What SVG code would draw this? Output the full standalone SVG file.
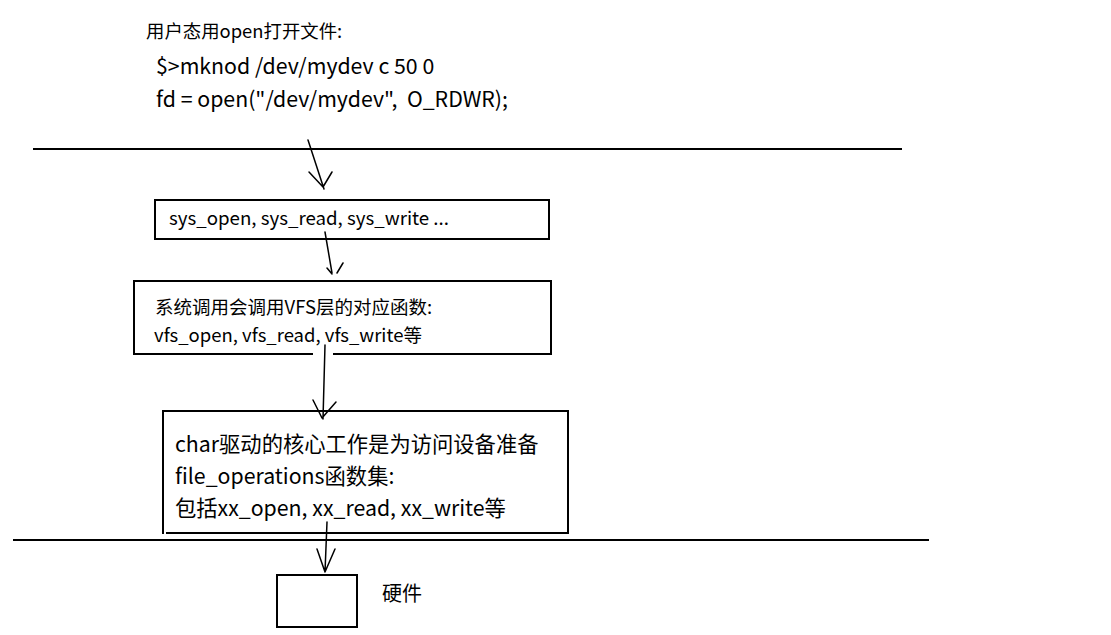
<svg xmlns="http://www.w3.org/2000/svg" width="1111" height="635" viewBox="0 0 1111 635">
<style>
text{font-family:"Noto Sans CJK SC","Noto Sans",sans-serif;fill:#000}
.b{fill:none;stroke:#000;stroke-width:2}
.c{fill:none;stroke:#000;stroke-width:1.5;stroke-linecap:round;stroke-linejoin:round}
</style>
<rect width="1111" height="635" fill="#fff"/>
<g id="header">
<text x="146" y="38" font-size="18.4">用户态用open打开文件:</text>
<text x="156" y="74" font-size="21.3">$&gt;mknod /dev/mydev c 50 0</text>
<text x="156" y="107" font-size="21.3" xml:space="preserve">fd = open("/dev/mydev",  O_RDWR);</text>
</g>
<g id="dividers">
<line class="b" x1="33" y1="149" x2="902" y2="149"/>
<line class="b" x1="13" y1="540" x2="929" y2="540"/>
</g>
<g id="syscall">
<rect class="b" x="155" y="200" width="394" height="39"/>
<text x="169" y="225" font-size="18.7">sys_open, sys_read, sys_write ...</text>
</g>
<g id="vfs">
<path class="b" d="M313 354 H134 V281 H551 V354 H333"/>
<text x="155" y="314" font-size="18.5">系统调用会调用VFS层的对应函数:</text>
<text x="154" y="342" font-size="18.5">vfs_open, vfs_read, vfs_write等</text>
</g>
<g id="driver">
<path class="b" d="M163 534 V411 H568 V533 H166"/>
<text x="175" y="452" font-size="21.3">char驱动的核心工作是为访问设备准备</text>
<text x="175" y="484" font-size="21.3">file_operations函数集:</text>
<text x="175" y="516" font-size="21.3">包括xx_open, xx_read, xx_write等</text>
</g>
<g id="hardware">
<rect class="b" x="277" y="575" width="80" height="52"/>
<text x="382" y="601" font-size="20">硬件</text>
</g>
<g id="connectors">
<path class="c" d="M308 140 L324 189 M309 172 L323 187 L332 172"/>
<path class="c" d="M325 232 L332 273 M327 268 L332 274 M337 273 L343 263"/>
<path class="c" d="M325 345 L323 419 M313 400 L322 418 M336 402 L322 418"/>
<path class="c" d="M327 522 L325 572 M317 549 L325 572 M335 549 L325 572"/>
</g>
</svg>
